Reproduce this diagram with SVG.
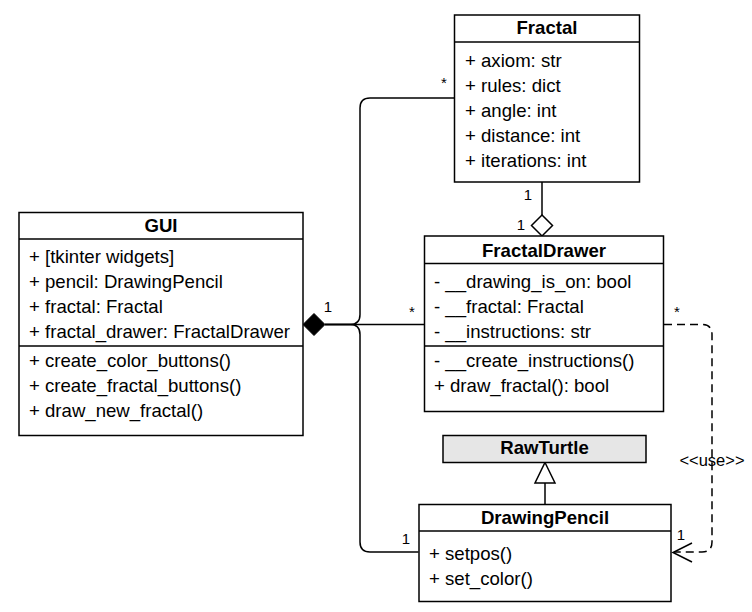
<svg xmlns="http://www.w3.org/2000/svg" width="752" height="612" viewBox="0 0 752 612">
<style>
.box{fill:#fff;stroke:#000;stroke-width:1.5}
.sep{stroke:#000;stroke-width:1.5}
.t{font-family:"Liberation Sans",Arial,sans-serif;font-size:18.6px;fill:#000}
.h{font-family:"Liberation Sans",Arial,sans-serif;font-size:18.6px;font-weight:bold;fill:#000;text-anchor:middle}
.lbl{font-family:"Liberation Sans",Arial,sans-serif;font-size:15px;fill:#000}
.ln{fill:none;stroke:#000;stroke-width:1.5}
</style>
<rect width="752" height="612" fill="#fff"/>
<g id="connectors">
  <path class="ln" d="M325 324.5 H350 Q360 324.5 360 314.5 V108 Q360 98 370 98 H454"/>
  <path class="ln" d="M325 324.5 H424"/>
  <path class="ln" d="M325 324.5 H350 Q360 324.5 360 334.5 V542 Q360 552 370 552 H418.5"/>
  <path d="M303 324.5 L314 313.5 L325 324.5 L314 335.5 Z" fill="#000" stroke="#000" stroke-width="1"/>
  <path class="ln" d="M542 182 V215"/>
  <path d="M542 215 L552.5 225.5 L542 236 L531.5 225.5 Z" fill="#fff" stroke="#000" stroke-width="1.5"/>
  <path class="ln" d="M545 504 V483"/>
  <path d="M545 462.5 L555 483 L535 483 Z" fill="#fff" stroke="#000" stroke-width="1.5"/>
  <path class="ln" d="M664 324.5 H702 Q712 324.5 712 334.5 V542 Q712 552 702 552 H674" stroke-dasharray="8 5"/>
  <path class="ln" d="M692 543 L673 552.5 L692 562"/>
  <text class="lbl" x="328" y="312" text-anchor="middle">1</text>
  <text class="lbl" x="444" y="88" text-anchor="middle">*</text>
  <text class="lbl" x="412" y="317" text-anchor="middle">*</text>
  <text class="lbl" x="677" y="317" text-anchor="middle">*</text>
  <text class="lbl" x="528" y="200" text-anchor="middle">1</text>
  <text class="lbl" x="521" y="230" text-anchor="middle">1</text>
  <text class="lbl" x="406" y="544" text-anchor="middle">1</text>
  <text class="lbl" x="681" y="540" text-anchor="middle">1</text>
  <text class="lbl" x="712" y="466" text-anchor="middle" style="font-size:16.5px">&lt;&lt;use&gt;&gt;</text>
</g>
<g id="Fractal">
  <rect class="box" x="454.5" y="15" width="185" height="167"/>
  <line class="sep" x1="454.5" y1="42" x2="639.5" y2="42"/>
  <text class="h" x="547" y="34">Fractal</text>
  <text class="t" x="465" y="67">+ axiom: str</text>
  <text class="t" x="465" y="92">+ rules: dict</text>
  <text class="t" x="465" y="117">+ angle: int</text>
  <text class="t" x="465" y="142">+ distance: int</text>
  <text class="t" x="465" y="167">+ iterations: int</text>
</g>
<g id="GUI">
  <rect class="box" x="19" y="212.5" width="284" height="223"/>
  <line class="sep" x1="19" y1="239" x2="303" y2="239"/>
  <line class="sep" x1="19" y1="346" x2="303" y2="346"/>
  <text class="h" x="161" y="232">GUI</text>
  <text class="t" x="29" y="263">+ [tkinter widgets]</text>
  <text class="t" x="29" y="288">+ pencil: DrawingPencil</text>
  <text class="t" x="29" y="313">+ fractal: Fractal</text>
  <text class="t" x="29" y="338">+ fractal_drawer: FractalDrawer</text>
  <text class="t" x="29" y="366.5">+ create_color_buttons()</text>
  <text class="t" x="29" y="391.5">+ create_fractal_buttons()</text>
  <text class="t" x="29" y="416.5">+ draw_new_fractal()</text>
</g>
<g id="FractalDrawer">
  <rect class="box" x="424.5" y="236" width="239" height="175.5"/>
  <line class="sep" x1="424.5" y1="263.5" x2="663.5" y2="263.5"/>
  <line class="sep" x1="424.5" y1="346" x2="663.5" y2="346"/>
  <text class="h" x="544" y="257">FractalDrawer</text>
  <text class="t" x="434" y="288">- __drawing_is_on: bool</text>
  <text class="t" x="434" y="313">- __fractal: Fractal</text>
  <text class="t" x="434" y="338">- __instructions: str</text>
  <text class="t" x="434" y="366.5">- __create_instructions()</text>
  <text class="t" x="434" y="391.5">+ draw_fractal(): bool</text>
</g>
<g id="RawTurtle">
  <rect x="443" y="435.5" width="203" height="27" fill="#e6e6e6" stroke="#000" stroke-width="1.5"/>
  <text class="h" x="544.5" y="454">RawTurtle</text>
</g>
<g id="DrawingPencil">
  <rect class="box" x="419" y="504.5" width="252" height="97"/>
  <line class="sep" x1="419" y1="531" x2="671" y2="531"/>
  <text class="h" x="545" y="523.5">DrawingPencil</text>
  <text class="t" x="429" y="560">+ setpos()</text>
  <text class="t" x="429" y="585">+ set_color()</text>
</g>
</svg>
